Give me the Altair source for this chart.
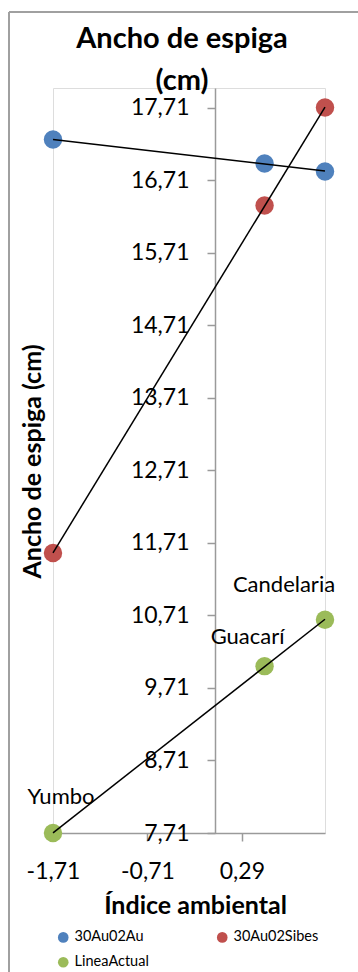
import altair as alt
import pandas as pd

# Sites (environments) and their environmental index
sites = ["Yumbo", "Guacarí", "Candelaria"]
env_index = [-1.71, 0.53, 1.17]

# Spike width (cm) per line
au_values = [17.27, 16.94, 16.83]
sibes_values = [11.57, 16.36, 17.71]
actual_values = [7.71, 10.01, 10.65]

series_names = ["30Au02Au", "30Au02Sibes", "LineaActual"]
series_colors = ["#4F81BD", "#C0504D", "#9BBB59"]

x_ticks = [-1.71, -0.71, 0.29]
y_ticks = [7.71, 8.71, 9.71, 10.71, 11.71, 12.71, 13.71, 14.71, 15.71, 16.71, 17.71]

rows = []
for name, vals in zip(series_names, [au_values, sibes_values, actual_values]):
    for site, xv, yv in zip(sites, env_index, vals):
        rows.append({"serie": name, "sitio": site, "indice": xv, "ancho": yv})
df = pd.DataFrame(rows)

FONT = "Lato"
AXIS_GRAY = "#9a9a9a"
LABEL_EXPR = "replace(replace(format(datum.value, '.2f'), '.', ','), '−', '-')"

x_scale = alt.Scale(domain=[-1.71, 1.17], nice=False, zero=False)
y_scale = alt.Scale(domain=[7.71, 17.98], nice=False, zero=False)

x_enc = alt.X(
    "indice:Q",
    scale=x_scale,
    axis=alt.Axis(
        values=x_ticks, labelExpr=LABEL_EXPR, grid=False,
        domainColor=AXIS_GRAY, domainWidth=1.5, tickColor=AXIS_GRAY, tickWidth=1.5,
        tickSize=8, labelFont=FONT, labelFontSize=23, labelColor="black",
        labelPadding=19, labelBaseline="top", labelFlush=False,
        title="Índice ambiental", titleFont=FONT, titleFontSize=25,
        titleFontWeight="bold", titleColor="black", titleX=142, titleY=80,
        titleBaseline="alphabetic", titleAlign="center",
    ),
)
y_enc = alt.Y(
    "ancho:Q",
    scale=y_scale,
    axis=alt.Axis(
        values=y_ticks, labelExpr=LABEL_EXPR, grid=False, offset=-162,
        domainColor=AXIS_GRAY, domainWidth=1.5, tickColor=AXIS_GRAY, tickWidth=1.5,
        tickSize=8, labelFont=FONT, labelFontSize=23, labelColor="black",
        labelPadding=18, labelBaseline="middle", labelFlush=False,
        title="Ancho de espiga (cm)", titleFont=FONT, titleFontSize=25,
        titleFontWeight="bold", titleColor="black", titleAngle=270,
        titleX=-175, titleY=373, titleBaseline="alphabetic", titleAlign="center",
    ),
)

color_enc = alt.Color(
    "serie:N",
    scale=alt.Scale(domain=series_names, range=series_colors),
    legend=alt.Legend(
        title=None, orient="none", legendX=3, legendY=842, columns=2,
        direction="horizontal",
        symbolType="circle", symbolSize=113, symbolStrokeWidth=0,
        labelFont=FONT, labelFontSize=14.5, labelColor="black", labelOffset=4,
        columnPadding=66, rowPadding=10, padding=0,
    ),
)

base = alt.Chart(df)

points = base.mark_circle(size=340, opacity=1).encode(x=x_enc, y=y_enc, color=color_enc)

trend = (
    base.transform_regression("indice", "ancho", groupby=["serie"])
    .mark_line(color="black", strokeWidth=1.5)
    .encode(x="indice:Q", y="ancho:Q", detail="serie:N")
)


def site_label(site, dx, dy):
    return (
        base.transform_filter((alt.datum.serie == "LineaActual") & (alt.datum.sitio == site))
        .mark_text(font=FONT, fontSize=22, color="black", dx=dx, dy=dy, baseline="middle")
        .encode(x="indice:Q", y="ancho:Q", text="sitio:N")
    )


labels = site_label("Yumbo", 8, -36) + site_label("Guacarí", -17, -29) + site_label("Candelaria", -41, -35)

# chart-area frame (left and top edges)
frame_left = base.mark_rule(color="#a0a0a0", strokeWidth=1.5).encode(
    x=alt.value(-44), y=alt.value(-76), y2=alt.value(900)
)
frame_top = base.mark_rule(color="#a0a0a0", strokeWidth=1.5).encode(
    x=alt.value(-44), x2=alt.value(320), y=alt.value(-76)
)

chart = (
    alt.layer(frame_left, frame_top, points, trend, labels)
    .properties(
        width=272,
        height=745,
        autosize=alt.AutoSizeParams(type="none"),
        padding={"left": 53, "top": 88, "right": 33, "bottom": 139},
        title=alt.TitleParams(
            ["Ancho de espiga", "(cm)"], font=FONT, fontSize=29, fontWeight="bold",
            color="black", anchor="middle", frame="group", dx=-7,
            lineHeight=42, baseline="bottom", offset=0, dy=114,
        ),
    )
    .configure_view(strokeWidth=0)
    .configure(background="white")
)

chart.save("out.html", embed_options={"renderer": "svg", "actions": False})
